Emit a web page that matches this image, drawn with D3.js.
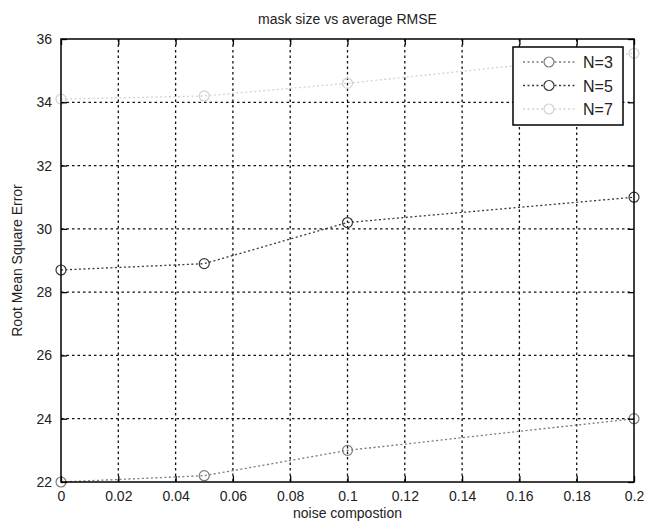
<!DOCTYPE html>
<html>
<head>
<meta charset="utf-8">
<script src="https://cdn.jsdelivr.net/npm/d3@7"></script>
<style>
  body { margin: 0; background: #fff; }
  svg { font-family: "Liberation Sans", Arial, sans-serif; }
</style>
</head>
<body>
<svg id="chart"></svg>
<script>
const noise = [0, 0.05, 0.1, 0.2]
const n3 = [22, 22.2, 23, 24]
const n5 = [28.7, 28.9, 30.2, 31.0]
const n7 = [34.1, 34.2, 34.6, 35.55]
const seriesNames = ["N=3", "N=5", "N=7"]
const xTicks = [0, 0.02, 0.04, 0.06, 0.08, 0.1, 0.12, 0.14, 0.16, 0.18, 0.2]
const yTicks = [22, 24, 26, 28, 30, 32, 34, 36]

const width = 646
const height = 524
const margin = { top: 39, right: 12, bottom: 42, left: 61 }

const svg = d3.select('#chart')
  .attr('width', width)
  .attr('height', height)

const x = d3.scaleLinear().domain([0, 0.2]).range([margin.left, width - margin.right])
const y = d3.scaleLinear().domain([22, 36]).range([height - margin.bottom, margin.top])

const series = [
  { name: seriesNames[0], values: n3, color: '#7a7a7a' },
  { name: seriesNames[1], values: n5, color: '#383838' },
  { name: seriesNames[2], values: n7, color: '#d2d2d2' }
]

// grid
const grid = svg.append('g')
grid.selectAll('.gx')
  .data(xTicks.slice(1, -1))
  .enter()
  .append('line')
  .attr('x1', d => x(d)).attr('x2', d => x(d))
  .attr('y1', y(36)).attr('y2', y(22))
  .attr('stroke', '#111')
  .attr('stroke-width', 1.3)
  .attr('stroke-dasharray', '2.5,3')
grid.selectAll('.gy')
  .data(yTicks.slice(1, -1))
  .enter()
  .append('line')
  .attr('x1', x(0)).attr('x2', x(0.2))
  .attr('y1', d => y(d)).attr('y2', d => y(d))
  .attr('stroke', '#111')
  .attr('stroke-width', 1.3)
  .attr('stroke-dasharray', '2.5,3')

// lines and markers
const line = d3.line()
  .x((d, i) => x(noise[i]))
  .y(d => y(d))

series.forEach(s => {
  svg.append('path')
    .datum(s.values)
    .attr('d', line)
    .attr('fill', 'none')
    .attr('stroke', s.color)
    .attr('stroke-width', 1.3)
    .attr('stroke-dasharray', '2,2.5')
  svg.append('g')
    .selectAll('circle')
    .data(s.values)
    .enter()
    .append('circle')
    .attr('cx', (d, i) => x(noise[i]))
    .attr('cy', d => y(d))
    .attr('r', 5)
    .attr('fill', 'none')
    .attr('stroke', s.color)
    .attr('stroke-width', 1.2)
})

// axes (ticks inside, matlab-style box)
const tickLen = 6
svg.append('g')
  .attr('transform', `translate(0,${y(22)})`)
  .call(d3.axisBottom(x).tickValues(xTicks).tickSize(-tickLen).tickPadding(9)
    .tickFormat(d => d3.format('~g')(d)))
  .call(g => g.select('.domain').remove())
svg.append('g')
  .attr('transform', `translate(0,${y(36)})`)
  .call(d3.axisTop(x).tickValues(xTicks).tickSize(-tickLen).tickFormat(''))
  .call(g => g.select('.domain').remove())
svg.append('g')
  .attr('transform', `translate(${x(0)},0)`)
  .call(d3.axisLeft(y).tickValues(yTicks).tickSize(-tickLen).tickPadding(9))
  .call(g => g.select('.domain').remove())
svg.append('g')
  .attr('transform', `translate(${x(0.2)},0)`)
  .call(d3.axisRight(y).tickValues(yTicks).tickSize(-tickLen).tickFormat(''))
  .call(g => g.select('.domain').remove())

svg.selectAll('.tick text')
  .attr('font-size', '14px')
  .attr('fill', '#222')
svg.selectAll('.tick line')
  .attr('stroke', '#000')
  .attr('stroke-width', 1.3)

svg.append('rect')
  .attr('x', x(0)).attr('y', y(36))
  .attr('width', x(0.2) - x(0)).attr('height', y(22) - y(36))
  .attr('fill', 'none')
  .attr('stroke', '#000')
  .attr('stroke-width', 1.5)

// legend
const legend = svg.append('g').attr('transform', 'translate(513,47)')
legend.append('rect')
  .attr('width', 110).attr('height', 78)
  .attr('fill', '#fff')
  .attr('stroke', '#000')
  .attr('stroke-width', 1.5)
const items = legend.selectAll('.item')
  .data(series)
  .enter()
  .append('g')
  .attr('transform', (d, i) => `translate(0,${15 + i * 23.5})`)
items.append('line')
  .attr('x1', 10).attr('x2', 62)
  .attr('stroke', d => d.color)
  .attr('stroke-width', 1.3)
  .attr('stroke-dasharray', '2,2.5')
items.append('circle')
  .attr('cx', 36).attr('r', 5)
  .attr('fill', '#fff')
  .attr('stroke', d => d.color)
  .attr('stroke-width', 1.2)
items.append('text')
  .attr('x', 70).attr('y', 6)
  .attr('font-size', '16px')
  .attr('fill', '#222')
  .text(d => d.name)

// titles
svg.append('text')
  .attr('x', (x(0) + x(0.2)) / 2)
  .attr('y', 24)
  .attr('text-anchor', 'middle')
  .attr('font-size', '14px')
  .attr('fill', '#222')
  .text('mask size vs average RMSE')
svg.append('text')
  .attr('x', (x(0) + x(0.2)) / 2)
  .attr('y', 518)
  .attr('text-anchor', 'middle')
  .attr('font-size', '14px')
  .attr('fill', '#222')
  .text('noise compostion')
svg.append('text')
  .attr('transform', `translate(22,${(y(22) + y(36)) / 2}) rotate(-90)`)
  .attr('text-anchor', 'middle')
  .attr('font-size', '14px')
  .attr('fill', '#222')
  .text('Root Mean Square Error')
</script>
</body>
</html>
